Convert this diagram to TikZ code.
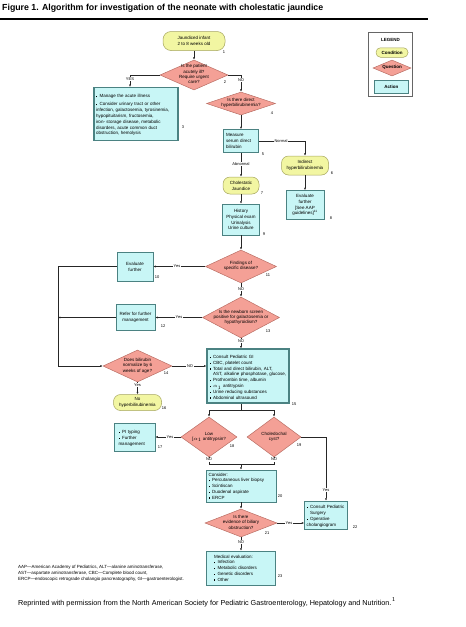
\documentclass[tikz,border=0pt]{standalone}
\usepackage{fontspec}
\usepackage{graphicx}
\setmainfont{Liberation Sans}
\usetikzlibrary{shapes.geometric,arrows.meta}
\definecolor{condfill}{RGB}{242,246,162}
\definecolor{conddraw}{RGB}{165,165,95}
\definecolor{qfill}{RGB}{244,160,150}
\definecolor{qdraw}{RGB}{185,110,100}
\definecolor{afill}{RGB}{200,246,246}
\definecolor{adraw}{RGB}{75,130,130}
\newcommand{\dtxt}[1]{\smash{\makebox[0pt]{\raisebox{-1pt}{\begin{tabular}{@{}c@{}}#1\end{tabular}}}}}
\newcommand{\itm}[1]{\par\hangindent=3.6pt\hangafter=1\noindent\makebox[3.6pt][l]{\raisebox{0.5pt}{\rule{1.3pt}{1.3pt}}}#1}
\begin{document}
\begin{tikzpicture}[x=1pt,y=-1pt,
  every node/.style={font=\fontsize{4.5}{5.8}\selectfont},
  cond/.style={rectangle, rounded corners=7pt, draw=conddraw, fill=condfill, line width=0.5pt, inner sep=1pt, align=center},
  ques/.style={diamond, draw=qdraw, fill=qfill, line width=0.5pt, inner sep=0pt, font=\fontsize{4.5}{5.3}\selectfont},
  act/.style={rectangle, draw=adraw, fill=afill, line width=0.7pt, inner sep=1.5pt},
  actb/.style={act, line width=1.2pt},
  num/.style={inner sep=0pt, font=\fontsize{4}{4}\selectfont},
  lab/.style={fill=white, inner sep=0.8pt, font=\fontsize{4}{4}\selectfont},
  conn/.style={draw=black!85, line width=0.55pt},
  arr/.style={conn, -{Latex[length=2.4pt,width=2.1pt]}}]
\useasboundingbox (0,0) rectangle (466,627);

% title
\node[anchor=base west, inner sep=0pt] (title) at (2,10.5) {\resizebox{321pt}{!}{\bfseries Figure 1. Algorithm for investigation of the neonate with cholestatic jaundice}};
\draw[line width=1.6pt] (0,19.2) -- (428,19.2);

% legend
\node[draw=black!60, line width=0.6pt, minimum width=44.5, minimum height=64.5, inner sep=0pt] (leg) at (390.5,64.5) {};
\node[inner sep=0pt] (legt) at (390.5,39.5) {\bfseries LEGEND};
\node[cond, minimum width=32, minimum height=9.5, rounded corners=4.5pt] (legc) at (392,52.5) {\bfseries Condition};
\node[ques, minimum width=38, minimum height=16] (legq) at (392,68) {\dtxt{\bfseries Question}};
\node[act, minimum width=34, minimum height=13] (lega) at (391.3,86.7) {\bfseries Action};

% nodes
\node[cond, minimum width=62, minimum height=19, rounded corners=8pt] (n1) at (194,41) {Jaundiced infant\\2 to 8 weeks old};
\node[ques, minimum width=68, minimum height=30] (d2) at (194,75) {\dtxt{Is the patient\\acutely ill?\\Require urgent\\care?}};
\node[actb, minimum width=84, minimum height=53, text width=80, align=left] (b3) at (136,114) {\itm{Manage the acute illness}\par\vspace{2.2pt}\itm{Consider urinary tract or other\newline infection, galactosemia, tyrosinemia,\newline hypopituitarism, fructosemia,\newline iron- storage disease, metabolic\newline disorders, acute common duct\newline obstruction, hemolysis}};
\node[ques, minimum width=69, minimum height=23] (d4) at (241,103.5) {\dtxt{Is there direct\\hyperbilirubinemia?}};
\node[act, minimum width=35, minimum height=23, text width=30, align=left] (b5) at (241,141) {Measure\\serum direct\\bilirubin};
\node[cond, minimum width=47, minimum height=19] (n6) at (305,165.5) {Indirect\\hyperbilirubinemia};
\node[act, minimum width=38, minimum height=29, align=center] (b8) at (305,205) {Evaluate\\further\\{[}See AAP\\guidelines{]}\textsuperscript{11}};
\node[cond, minimum width=36, minimum height=17] (n7) at (241,185.5) {Cholestatic\\Jaundice};
\node[act, minimum width=37, minimum height=31, align=center] (b9) at (241,219.5) {History\\Physical exam\\Urinalysis\\Urine culture};
\node[ques, minimum width=71, minimum height=33] (d11) at (241,266.5) {\dtxt{Findings of\\specific disease?}};
\node[act, minimum width=36, minimum height=29, align=center] (b10) at (135,266.5) {Evaluate\\further};
\node[ques, minimum width=77, minimum height=41] (d13) at (241,317.5) {\dtxt{Is the newborn screen\\positive for galactosemia or\\hypothyroidism?}};
\node[act, minimum width=39, minimum height=26, align=center] (b12) at (135.5,317.5) {Refer for further\\management};
\node[ques, minimum width=69, minimum height=32] (d14) at (137.5,366) {\dtxt{Does bilirubin\\normalize by 6\\weeks of age?}};
\node[actb, minimum width=82, minimum height=54, text width=77, align=left] (b15) at (248,376) {\itm{Consult Pediatric GI}\itm{CBC, platelet count}\itm{Total and direct bilirubin, ALT,\newline AST, alkaline phosphotase, glucose,}\itm{Prothrombin time, albumin}\itm{$\alpha_1$ antitrypsin}\itm{Urine reducing substances}\itm{Abdominal ultrasound}};
\node[cond, minimum width=48, minimum height=16] (n16) at (137.5,402.5) {No\\hyperbilirubinemia};
\node[ques, minimum width=56, minimum height=40] (d18) at (209,437) {\dtxt{Low\\{[}$\alpha_1$ antitrypsin?}};
\node[ques, minimum width=54, minimum height=40] (d19) at (274,437) {\dtxt{Choledochal\\cyst?}};
\node[act, minimum width=41, minimum height=28, text width=32, align=left] (b17) at (134.5,437) {\itm{PI typing}\itm{Further\newline management}};
\node[act, minimum width=70, minimum height=32, text width=65, align=left] (b20) at (241,486) {Consider:\itm{Percutaneous liver biopsy}\itm{Scintiscan}\itm{Duodenal aspirate}\itm{ERCP}};
\node[ques, minimum width=72, minimum height=28] (d21) at (241,523) {\dtxt{Is there\\evidence of biliary\\obstruction?}};
\node[act, minimum width=43, minimum height=28, text width=39, align=left] (b22) at (326,515) {\itm{Consult Pediatric\newline Surgery}\itm{Operative\newline cholangiogram}};
\node[act, minimum width=69, minimum height=34, text width=54, align=left] (b23) at (241,568) {Medical evaluation:\itm{Infection}\itm{Metabolic disorders}\itm{Genetic disorders}\itm{Other}};

% numbers
\node[num] (k1) at (224,52) {1};
\node[num] (k2) at (225,82) {2};
\node[num] (k3) at (183,127) {3};
\node[num] (k4) at (272,113) {4};
\node[num] (k5) at (263,154) {5};
\node[num] (k6) at (332,173) {6};
\node[num] (k7) at (262,193) {7};
\node[num] (k8) at (331,218) {8};
\node[num] (k9) at (264,234) {9};
\node[num] (k10) at (157,277) {10};
\node[num] (k11) at (268,275) {11};
\node[num] (k12) at (163,326) {12};
\node[num] (k13) at (268,331) {13};
\node[num] (k14) at (166,373) {14};
\node[num] (k15) at (294,404) {15};
\node[num] (k16) at (164,408) {16};
\node[num] (k17) at (160,447) {17};
\node[num] (k18) at (232,446) {18};
\node[num] (k19) at (299,445) {19};
\node[num] (k20) at (280,496) {20};
\node[num] (k21) at (267,533) {21};
\node[num] (k22) at (355,527) {22};
\node[num] (k23) at (280,576) {23};

% connectors
\draw[arr] (n1) -- (d2);
\node[lab] (lyes2) at (130,79) {YES};
\draw[conn] (d2.west) -| (lyes2.north);
\draw[arr] (lyes2.south) -- (lyes2.south |- b3.north);
\node[lab] (lno2) at (241,80) {NO};
\draw[conn] (d2.east) -| (lno2.north);
\draw[arr] (lno2.south) -- (d4.north);
\draw[arr] (d4) -- (b5);
\node[lab] (lnorm) at (281,141) {Normal};
\draw[conn] (b5.east) -- (lnorm.west);
\draw[arr] (lnorm.east) -| (n6.north);
\node[lab] (labn) at (241,164) {Abnormal};
\draw[conn] (b5.south) -- (labn.north);
\draw[arr] (labn.south) -- (n7.north);
\draw[arr] (n6) -- (b8);
\draw[arr] (n7) -- (b9);
\draw[arr] (b9) -- (d11);
\node[lab] (lyes11) at (177,266.5) {Yes};
\draw[conn] (d11.west) -- (lyes11.east);
\draw[arr] (lyes11.west) -- (b10.east);
\node[lab] (lno11) at (241,289) {NO};
\draw[conn] (d11.south) -- (lno11.north);
\draw[arr] (lno11.south) -- (d13.north);
\node[lab] (lyes13) at (179,317.5) {Yes};
\draw[conn] (d13.west) -- (lyes13.east);
\draw[arr] (lyes13.west) -- (b12.east);
\coordinate (ltop) at (58,266.5);
\coordinate (lmid) at (58,317.5);
\coordinate (lbot) at (58,366);
\draw[conn] (b10.west) -- (ltop) -- (lbot);
\draw[arr] (b12.west) -- (lmid);
\draw[arr] (lbot) -- (d14.west);
\node[lab] (lno13) at (241,341) {NO};
\draw[conn] (d13.south) -- (lno13.north);
\draw[arr] (lno13.south) -- (lno13.south |- b15.north);
\node[lab] (lno14) at (190,366) {NO};
\draw[conn] (d14.east) -- (lno14.west);
\draw[arr] (lno14.east) -- (lno14.east -| b15.west);
\node[lab] (lyes14) at (137.5,385) {Yes};
\draw[conn] (d14.south) -- (lyes14.north);
\draw[arr] (lyes14.south) -- (n16.north);
\coordinate (j15) at (241,410);
\draw[conn] (j15 |- b15.south) -- (j15);
\draw[arr] (j15) -| (d18.north);
\draw[arr] (j15) -| (d19.north);
\node[lab] (lyes18) at (170,437) {Yes};
\draw[conn] (d18.west) -- (lyes18.east);
\draw[arr] (lyes18.west) -- (b17.east);
\coordinate (c19) at (326,437);
\node[lab] (lyes19) at (326,490) {Yes};
\draw[conn] (d19.east) -- (c19) -- (lyes19.north);
\draw[arr] (lyes19.south) -- (b22.north);
\node[lab] (lno18) at (209,459.5) {NO};
\node[lab] (lno19) at (274,459.5) {NO};
\draw[conn] (d18.south) -- (lno18.north);
\draw[conn] (d19.south) -- (lno19.north);
\coordinate (j20) at (241,464.5);
\draw[conn] (lno18.south) |- (j20) -| (lno19.south);
\draw[arr] (j20) -- (b20.north);
\draw[arr] (b20) -- (d21);
\node[lab] (lyes21) at (289,523) {Yes};
\draw[conn] (d21.east) -- (lyes21.west);
\draw[arr] (lyes21.east) -- (lyes21.east -| b22.west);
\node[lab] (lno21) at (241,542) {NO};
\draw[conn] (d21.south) -- (lno21.north);
\draw[arr] (lno21.south) -- (b23.north);

% footnotes
\node[anchor=north west, inner sep=0pt, align=left, font=\fontsize{4.5}{6}\selectfont] (foot) at (18,565) {AAP---American Academy of Pediatrics, ALT---alanine aminotransferase,\\AST---aspartate aminotransferase, CBC---Complete blood count,\\ERCP---endoscopic retrograde cholangio pancreatography, GI---gastroenterologist.};
\node[anchor=base west, inner sep=0pt] (repr) at (18,605) {\resizebox{378pt}{!}{\fontsize{6}{7}\selectfont Reprinted with permission from the North American Society for Pediatric Gastroenterology, Hepatology and Nutrition.$^1$}};
\end{tikzpicture}
\end{document}
